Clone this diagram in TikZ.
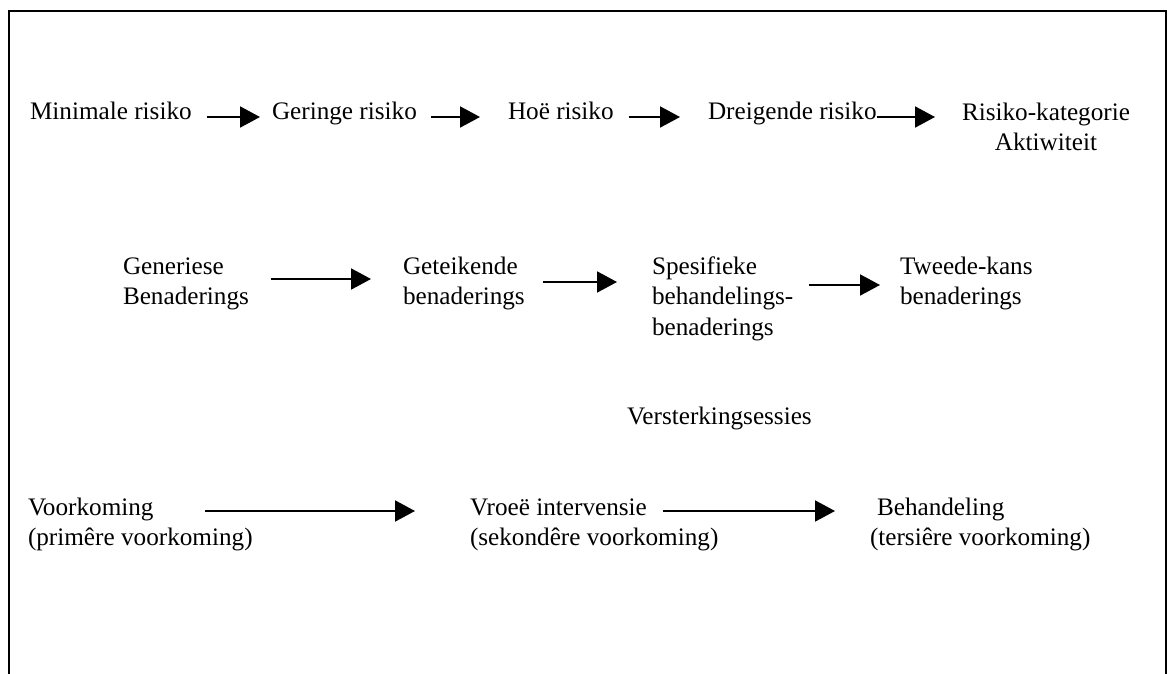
\documentclass[tikz,border=0pt]{standalone}
\usepackage{fontspec}
\setmainfont{Liberation Serif}
\usetikzlibrary{arrows.meta}
\begin{document}
\begin{tikzpicture}[x=1pt,y=-1pt,
  lbl/.style={inner sep=0pt, outer sep=0pt, font=\fontsize{25.2pt}{30.5pt}\selectfont, align=left, anchor=base west},
  flow/.style={line width=2pt, -{Triangle[length=20pt,width=21pt]}},
  frame/.style={line width=2pt}]
\useasboundingbox (0,0) rectangle (1170,674);
% open frame (no bottom edge)
\draw[frame] (9,674) -- (9,11) -- (1166,11) -- (1166,674);

% risk levels (base anchor = baseline of the last line)
\node[lbl] (min) at (30,120) {Minimale risiko};
\node[lbl] (ger) at (272,120) {Geringe risiko};
\node[lbl] (hoe) at (508,120) {Hoë risiko};
\node[lbl] (dre) at (708,120) {Dreigende risiko};
\node[lbl, align=center] (kat) at (962,150.5) {Risiko-kategorie\\Aktiwiteit};

\draw[flow] ([xshift=15pt,yshift=3pt]min.base east) -- ([xshift=-12pt,yshift=3pt]ger.base west);
\draw[flow] ([xshift=14pt,yshift=3pt]ger.base east) -- ([xshift=-28pt,yshift=3pt]hoe.base west);
\draw[flow] ([xshift=15pt,yshift=3pt]hoe.base east) -- ([xshift=-28pt,yshift=3pt]dre.base west);
\draw[flow] ([xshift=0pt,yshift=3pt]dre.base east) -- ([xshift=-27pt,yshift=33.5pt]kat.base west);

% approaches
\node[lbl] (gen) at (123,304.5) {Generiese\\Benaderings};
\node[lbl] (get) at (403,304.5) {Geteikende\\benaderings};
\node[lbl] (spe) at (652,335) {Spesifieke\\behandelings-\\benaderings};
\node[lbl] (twe) at (900,304.5) {Tweede-kans\\benaderings};

\draw[flow] ([xshift=22pt,yshift=25.5pt]gen.base east) -- ([xshift=-32pt,yshift=25.5pt]get.base west);
\draw[flow] ([xshift=18pt,yshift=22.5pt]get.base east) -- ([xshift=-35pt,yshift=53pt]spe.base west);
\draw[flow] ([xshift=16pt,yshift=50pt]spe.base east) -- ([xshift=-20pt,yshift=19.5pt]twe.base west);

\node[lbl] (ver) at (627,424) {Versterkingsessies};

% prevention levels
\node[lbl] (voo) at (28,545.5) {Voorkoming\\(primêre voorkoming)};
\node[lbl] (vro) at (470,545.5) {Vroeë intervensie\\(sekondêre voorkoming)};
\node[lbl] (beh) at (870,545.5) {\hspace*{7pt}Behandeling\\(tersiêre voorkoming)};

\draw[flow] ([xshift=177pt,yshift=34.5pt]voo.base west) -- ([xshift=-55pt,yshift=34.5pt]vro.base west);
\draw[flow] ([xshift=193pt,yshift=34.5pt]vro.base west) -- ([xshift=-35pt,yshift=34.5pt]beh.base west);
\end{tikzpicture}
\end{document}
